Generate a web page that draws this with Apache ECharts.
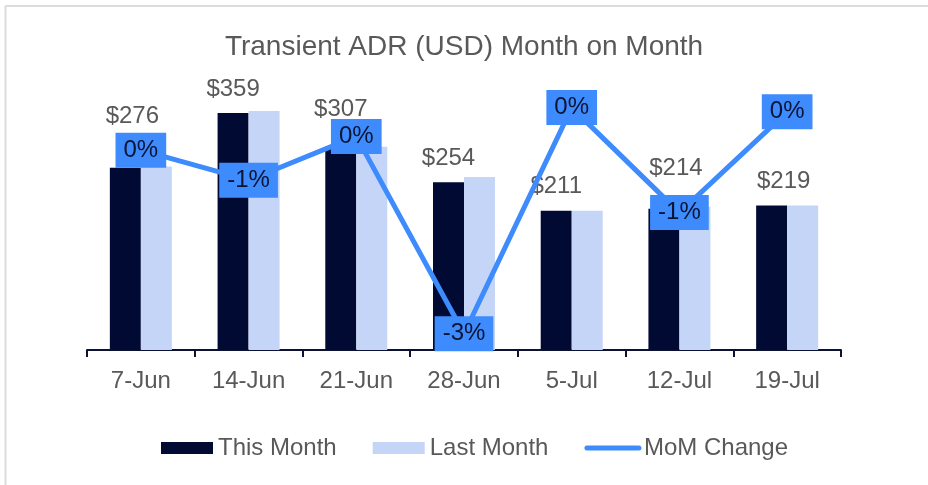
<!DOCTYPE html>
<html>
<head>
<meta charset="utf-8">
<title>Transient ADR (USD) Month on Month</title>
<script src="https://cdn.jsdelivr.net/npm/echarts@6/dist/echarts.min.js"></script>
<style>
	html, body { margin: 0; padding: 0; background: #fff; }
	#chart { width: 928px; height: 485px; }
</style>
</head>
<body>
<div id="chart"></div>
<script>
// chart data
const weeks = ['7-Jun', '14-Jun', '21-Jun', '28-Jun', '5-Jul', '12-Jul', '19-Jul'];
const thisMonth = [276, 359, 307, 254, 211, 214, 219];
const lastMonth = [278, 362, 308, 262, 211, 217, 219];
// MoM change in percent
const momChange = [-0.37, -0.87, -0.14, -3.43, 0.34, -1.41, 0.27];

const FONT = '"Liberation Sans", Arial, sans-serif';
const GREY = '#595959';
const NAVY = '#000a33';
const BLUE = '#3d8bfd';

// some value labels were nudged by hand in the original
const labelNudge = [[7, -27], [0, 0], [0, -14], [0, 0], [0, 0], [12, -16], [12, 0]];

const myChart = echarts.init(document.getElementById('chart'));

myChart.setOption({
	animation: false,
	textStyle: { fontFamily: FONT },
	title: {
		text: 'Transient ADR (USD) Month on Month',
		left: 'center',
		top: 28,
		textStyle: { fontFamily: FONT, fontSize: 28, fontWeight: 'normal', color: GREY },
	},
	legend: {
		left: 156,
		top: 431,
		itemWidth: 52,
		itemHeight: 12,
		itemGap: 36,
		textStyle: { fontFamily: FONT, fontSize: 24, color: GREY },
		data: [
			{ name: 'This Month', icon: 'rect' },
			{ name: 'Last Month', icon: 'rect' },
			{
				name: 'MoM Change',
				lineStyle: { width: 5, cap: 'round' },
				itemStyle: { opacity: 0 },
			},
		],
	},
	grid: { left: 87, right: 87, top: 86, bottom: 135 },
	xAxis: {
		type: 'category',
		data: weeks,
		axisLine: { lineStyle: { color: '#0b1233', width: 2 } },
		axisTick: { show: true, length: 7, lineStyle: { color: '#0b1233', width: 2 } },
		axisLabel: { margin: 19, fontFamily: FONT, fontSize: 24, color: GREY },
	},
	yAxis: [
		{ type: 'value', min: 0, max: 400, show: false, splitLine: { show: false } },
		{ type: 'value', min: -3.7, max: 0.7, show: false, splitLine: { show: false } },
	],
	graphic: [
		{ type: 'line', shape: { x1: 5, y1: 6, x2: 928, y2: 6 }, style: { stroke: '#dcdcdc', lineWidth: 2 } },
		{ type: 'line', shape: { x1: 5.5, y1: 6, x2: 5.5, y2: 485 }, style: { stroke: '#dcdcdc', lineWidth: 2 } },
	],
	series: [
		{
			name: 'This Month',
			type: 'bar',
			barWidth: 31,
			barGap: '0%',
			itemStyle: { color: NAVY },
			label: {
				show: true,
				position: 'top',
				distance: 12,
				fontFamily: FONT,
				fontSize: 24,
				color: GREY,
				formatter: (p) => `$${p.value}`,
			},
			data: thisMonth.map((v, i) => ({ value: v, label: { offset: labelNudge[i] } })),
		},
		{
			name: 'Last Month',
			type: 'bar',
			barWidth: 31,
			itemStyle: { color: '#c5d5f7' },
			data: lastMonth,
		},
		{
			name: 'MoM Change',
			type: 'line',
			yAxisIndex: 1,
			symbol: 'circle',
			symbolSize: 2,
			itemStyle: { color: BLUE },
			lineStyle: { color: BLUE, width: 5, cap: 'round' },
			z: 5,
			label: {
				show: true,
				position: 'inside',
				fontFamily: FONT,
				fontSize: 24,
				lineHeight: 24,
				color: '#0b1433',
				backgroundColor: BLUE,
				padding: [6, 8, 5, 8],
				formatter: (p) => `${Math.round(p.value)}%`,
			},
			data: momChange,
		},
	],
});
</script>
</body>
</html>
